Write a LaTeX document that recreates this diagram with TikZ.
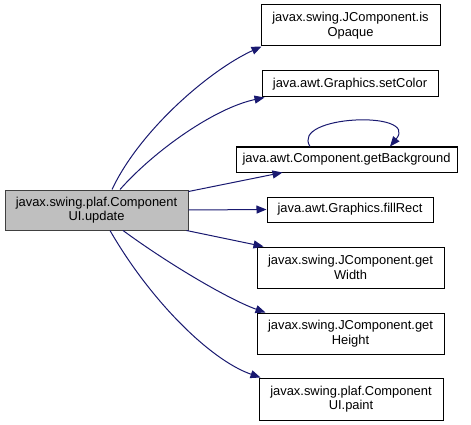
\documentclass[tikz,border=0pt]{standalone}
\usepackage{fontspec}
\setmainfont{Liberation Sans}
\usetikzlibrary{arrows.meta}
\definecolor{edgecol}{HTML}{191970}
\definecolor{srcfill}{HTML}{BFBFBF}
\definecolor{boxline}{HTML}{404040}
\tikzset{
  fn/.style={draw=black, line width=1pt, fill=white, align=center,
    inner sep=0pt, font=\fontsize{12.9}{14.5}\selectfont},
  srcbox/.style={fn, fill=srcfill, draw=boxline},
  edge/.style={draw=edgecol, line width=1pt,
    -{Triangle[length=10pt,width=8pt]}, fill=none},
}
\begin{document}
\begin{tikzpicture}[x=1pt,y=-1pt]
\useasboundingbox (0,0) rectangle (471,425);
\node[srcbox, minimum width=183pt, minimum height=40pt] (src) at (96.5,210) {javax.swing.plaf.Component\\UI.update};
\node[fn, minimum width=179pt, minimum height=41pt] (op) at (350.5,25.5) {javax.swing.JComponent.is\\Opaque};
\node[fn, minimum width=176pt, minimum height=26pt] (sc) at (350,84) {java.awt.Graphics.setColor};
\node[fn, minimum width=221pt, minimum height=25pt] (gb) at (346.5,159.5) {java.awt.Component.getBackground};
\node[fn, minimum width=166pt, minimum height=25pt] (fr) at (350,209.5) {java.awt.Graphics.fillRect};
\node[fn, minimum width=187pt, minimum height=41pt] (gw) at (350.5,267.5) {javax.swing.JComponent.get\\Width};
\node[fn, minimum width=187pt, minimum height=41pt] (gh) at (350.5,333.5) {javax.swing.JComponent.get\\Height};
\node[fn, minimum width=184pt, minimum height=42pt] (pt) at (351,399) {javax.swing.plaf.Component\\UI.paint};

\draw[edge] ([xshift=15.5pt]src.north) .. controls (140,130) and (210,70) .. ([xshift=1pt]op.south west);
\draw[edge] ([xshift=23.5pt]src.north) .. controls (155,150) and (215,108) .. ([xshift=3pt]sc.south west);
\draw[edge] ([yshift=-2pt]src.north east) -- ([xshift=47pt]gb.south west);
\draw[edge] (src.east) -- (fr.west);
\draw[edge] ([xshift=-2pt]src.south east) -- ([xshift=7pt]gw.north west);
\draw[edge] ([xshift=26.5pt]src.south) .. controls (170,265) and (230,300) .. ([xshift=9pt]gh.north west);
\draw[edge] ([xshift=13.5pt]src.south) .. controls (150,300) and (210,360) .. ([xshift=2pt]pt.north west);
\draw[edge] ([xshift=-36.5pt]gb.north) .. controls (290,115) and (420,110) .. ([xshift=43.5pt]gb.north);
\end{tikzpicture}
\end{document}
